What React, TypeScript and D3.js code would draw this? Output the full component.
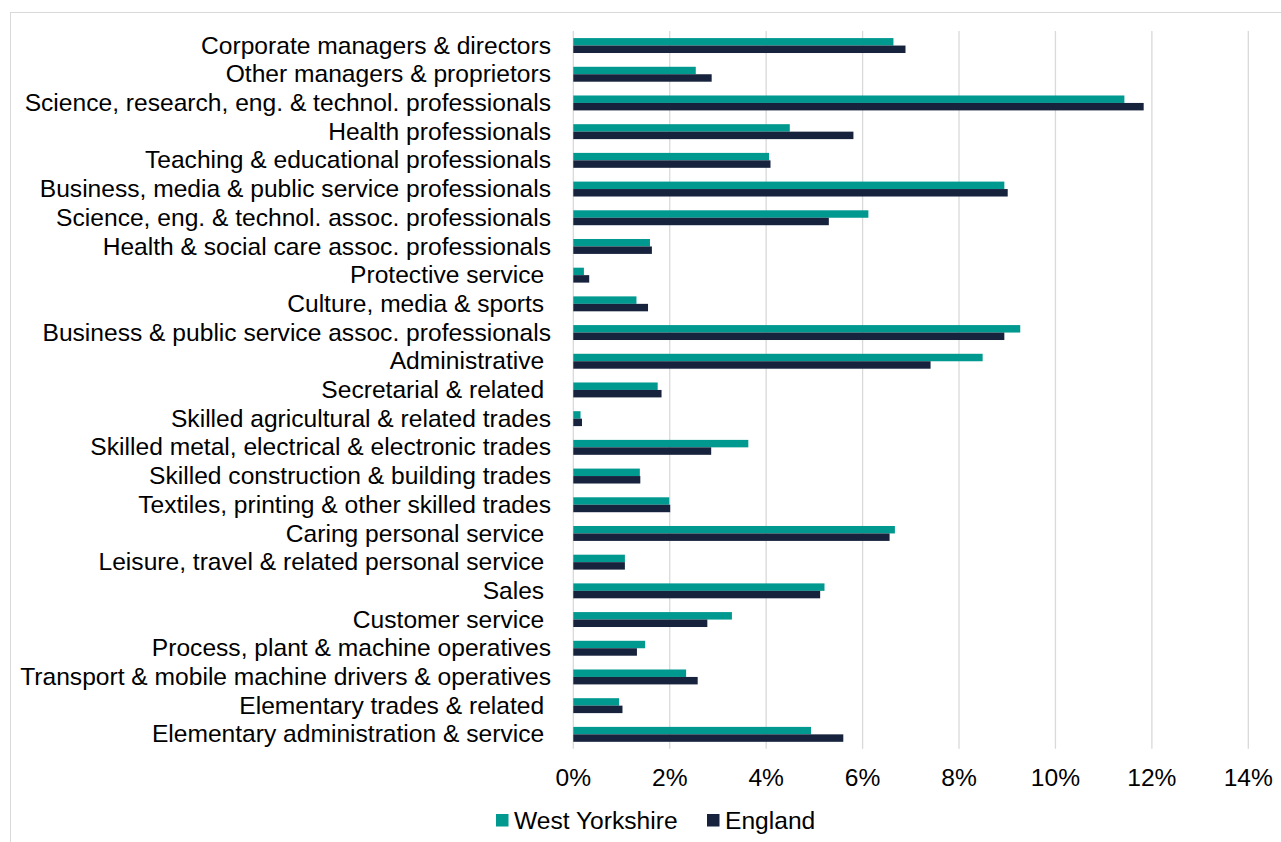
import React from "react";
import * as d3 from "d3";

const categories = [
  "Corporate managers & directors",
  "Other managers & proprietors",
  "Science, research, eng. & technol. professionals",
  "Health professionals",
  "Teaching & educational professionals",
  "Business, media & public service professionals",
  "Science, eng. & technol. assoc. professionals",
  "Health & social care assoc. professionals",
  "Protective service ",
  "Culture, media & sports ",
  "Business & public service assoc. professionals",
  "Administrative ",
  "Secretarial & related ",
  "Skilled agricultural & related trades",
  "Skilled metal, electrical & electronic trades",
  "Skilled construction & building trades",
  "Textiles, printing & other skilled trades",
  "Caring personal service ",
  "Leisure, travel & related personal service ",
  "Sales ",
  "Customer service ",
  "Process, plant & machine operatives",
  "Transport & mobile machine drivers & operatives",
  "Elementary trades & related ",
  "Elementary administration & service ",
];

const westYorkshire = [
  6.64, 2.54, 11.43, 4.49, 4.06, 8.94, 6.12, 1.59, 0.22, 1.31, 9.27, 8.49, 1.75,
  0.15, 3.63, 1.38, 1.99, 6.67, 1.07, 5.21, 3.29, 1.49, 2.34, 0.95, 4.93,
];
const england = [
  6.89, 2.87, 11.83, 5.81, 4.09, 9.01, 5.3, 1.63, 0.33, 1.55, 8.94, 7.41, 1.83,
  0.18, 2.86, 1.39, 2.01, 6.56, 1.07, 5.12, 2.78, 1.32, 2.58, 1.02, 5.6,
];
const ticks = [0, 2, 4, 6, 8, 10, 12, 14];
const seriesNames = ["West Yorkshire", "England"];
const colors = ["#00998F", "#17233D"];

export default function App() {
  const W = 1281;
  const H = 842;
  const x = d3.scaleLinear().domain([0, 14]).range([573.3, 1248.3]);
  const y = d3
    .scaleBand<string>()
    .domain(categories)
    .range([31.2, 748.7])
    .paddingInner(0.48)
    .paddingOuter(0.24);
  const inner = d3
    .scaleBand<string>()
    .domain(seriesNames)
    .range([0, y.bandwidth()]);
  const font = "Liberation Sans, Arial, sans-serif";
  const fs = 24.6;
  const data = [westYorkshire, england];

  return (
    <svg
      width={W}
      height={H}
      style={{ position: "absolute", left: 0, top: 0, background: "#fff" }}
      fontFamily={font}
    >
      <rect x={10.5} y={12.5} width={1275} height={840} fill="#fff" stroke="#d9d9d9" />
      {ticks.map((t) => (
        <line
          key={"g" + t}
          x1={x(t)}
          x2={x(t)}
          y1={31}
          y2={748.7}
          stroke="#d9d9d9"
          strokeWidth={1.3}
        />
      ))}
      {data.map((vals, s) =>
        vals.map((v, i) => (
          <rect
            key={s + "-" + i}
            x={x(0)}
            y={(y(categories[i]) as number) + (inner(seriesNames[s]) as number)}
            width={x(v) - x(0)}
            height={inner.bandwidth()}
            fill={colors[s]}
          />
        ))
      )}
      {categories.map((c) => (
        <text
          key={c}
          x={551}
          y={(y(c) as number) + y.bandwidth() / 2 - 0.5}
          dy="0.35em"
          textAnchor="end"
          fontSize={fs}
          fill="#000"
          style={{ whiteSpace: "pre" }}
        >
          {c}
        </text>
      ))}
      {ticks.map((t) => (
        <text
          key={"t" + t}
          x={x(t)}
          y={777}
          dy="0.35em"
          textAnchor="middle"
          fontSize={fs}
          fill="#000"
        >
          {t + "%"}
        </text>
      ))}
      {(() => {
        const items = [
          { name: seriesNames[0], sx: 496, tx: 514 },
          { name: seriesNames[1], sx: 707, tx: 725 },
        ];
        return items.map((it, k) => (
          <g key={it.name}>
            <rect x={it.sx} y={814} width={12.5} height={12.5} fill={colors[k]} />
            <text x={it.tx} y={820.5} dy="0.35em" fontSize={fs} fill="#000">
              {it.name}
            </text>
          </g>
        ));
      })()}
    </svg>
  );
}
